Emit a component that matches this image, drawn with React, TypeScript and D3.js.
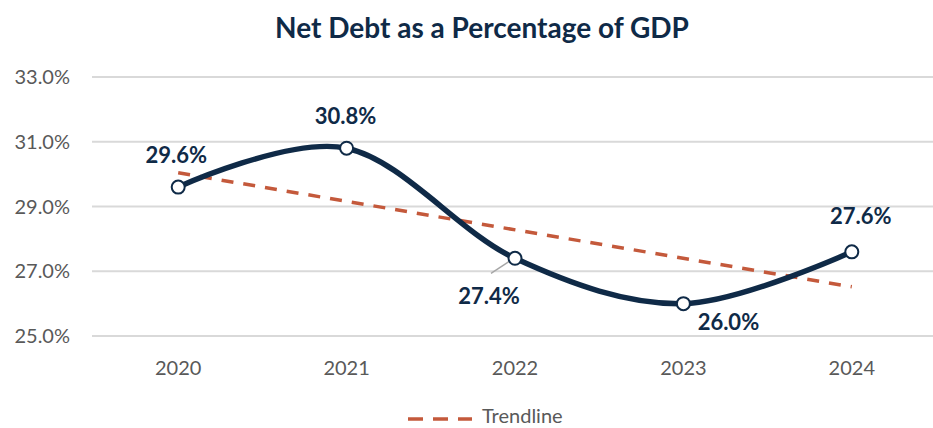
import React from "react";
import * as d3 from "d3";

const years = ["2020", "2021", "2022", "2023", "2024"];
const values = [29.6, 30.8, 27.4, 26.0, 27.6];
const yTicks = [25, 27, 29, 31, 33];
const labelOffsets = [
  [-2, -24],
  [-1, -24],
  [-26, 46],
  [45, 26],
  [9, -28],
];

const W = 933;
const H = 428;
const NAVY = "#0f2a47";
const ORANGE = "#c4593b";
const GREY = "#595959";
const FONT = "Lato, 'Open Sans', sans-serif";

export default function App() {
  const x = d3.scaleBand<string>().domain(years).range([94, 936]);
  const y = d3.scaleLinear().domain([25, 33]).range([336, 77]);
  const cx = (i: number) => (x(years[i]) as number) + x.bandwidth() / 2;

  // linear trendline (least squares)
  const n = values.length;
  const mx = d3.mean(values.map((_, i) => i)) as number;
  const my = d3.mean(values) as number;
  const slope =
    d3.sum(values.map((v, i) => (i - mx) * (v - my))) /
    d3.sum(values.map((_, i) => (i - mx) * (i - mx)));
  const intercept = my - slope * mx;
  const trend = [0, n - 1].map((i) => [cx(i), y(intercept + slope * i)] as [number, number]);

  const line = d3
    .line<number>()
    .x((_, i) => cx(i))
    .y((v) => y(v))
    .curve(d3.curveCardinal.tension(0));

  return (
    <svg
      width={W}
      height={H}
      style={{ position: "absolute", left: 0, top: 0, background: "#fff" }}
      fontFamily={FONT}
    >
      <text x={482} y={38} textAnchor="middle" fontSize={28} fontWeight={700} fill={NAVY}>
        Net Debt as a Percentage of GDP
      </text>
      {yTicks.map((t) => (
        <g key={t}>
          <line x1={92} x2={W} y1={y(t)} y2={y(t)} stroke="#d9d9d9" strokeWidth={2} />
          <text x={70} y={y(t) + 7} textAnchor="end" fontSize={20} fill={GREY}>
            {t.toFixed(1)}%
          </text>
        </g>
      ))}
      {years.map((yr, i) => (
        <text key={yr} x={cx(i)} y={375} textAnchor="middle" fontSize={20} fill={GREY}>
          {yr}
        </text>
      ))}
      <path
        d={d3.line()(trend) as string}
        stroke={ORANGE}
        strokeWidth={3.5}
        strokeDasharray="12 10"
        fill="none"
      />
      <path d={line(values) as string} stroke={NAVY} strokeWidth={5.5} fill="none" />
      <line
        x1={cx(2) - 24}
        y1={y(values[2]) + 15}
        x2={cx(2) - 4}
        y2={y(values[2]) + 2}
        stroke="#a6a6a6"
        strokeWidth={1.5}
      />
      {values.map((v, i) => (
        <circle key={i} cx={cx(i)} cy={y(v)} r={6.5} fill="#fff" stroke={NAVY} strokeWidth={2} />
      ))}
      {values.map((v, i) => (
        <text
          key={"l" + i}
          x={cx(i) + labelOffsets[i][0]}
          y={y(v) + labelOffsets[i][1]}
          textAnchor="middle"
          fontSize={22}
          fontWeight={700}
          fill={NAVY}
        >
          {v.toFixed(1)}%
        </text>
      ))}
      <line x1={408} x2={472} y1={419} y2={419} stroke={ORANGE} strokeWidth={3.5} strokeDasharray="15 10" />
      <text x={482} y={423} fontSize={20} fill={GREY}>
        Trendline
      </text>
    </svg>
  );
}
